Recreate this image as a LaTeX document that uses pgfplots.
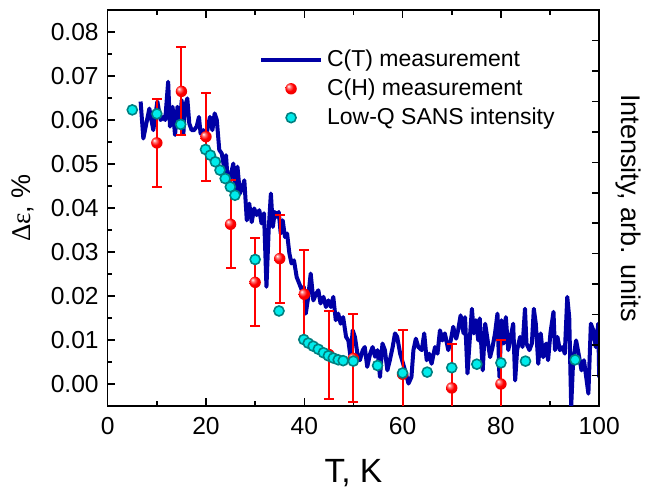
\documentclass[border=0pt]{standalone}
\usepackage{pgfplots}
\pgfplotsset{compat=1.18}
\usepackage{fontspec}
\setmainfont{Liberation Sans}
\newfontfamily\serif{Liberation Serif}
\definecolor{navyline}{RGB}{0,0,165}
\definecolor{cyanfill}{RGB}{0,235,235}
\definecolor{tealedge}{RGB}{0,128,128}
\pgfdeclareradialshading{redballshade}{\pgfpoint{-12bp}{12bp}}{color(0bp)=(white); color(8bp)=(red!55!white); color(18bp)=(red); color(34bp)=(red!90!black); color(50bp)=(red!70!black)}
\pgfdeclareplotmark{redball}{\pgfpathcircle{\pgfpointorigin}{\pgfplotmarksize}\pgfshadepath{redballshade}{0}\pgfusepath{}}

\pgfplotstableread{
x y
6.7 0.0642
7.25 0.0558
8.47 0.0626
9.28 0.0577
10.1 0.0642
10.77 0.0600
11.3 0.0607
11.7 0.0600
12.3 0.0687
12.67 0.0585
13.2 0.0630
13.7 0.0566
14.2 0.0630
14.7 0.0585
15.05 0.0645
15.4 0.0569
15.7 0.0630
16.2 0.0649
16.6 0.0592
17.08 0.0577
17.56 0.0577
18.1 0.0585
18.57 0.0607
18.9 0.0569
19.46 0.0577
19.86 0.0554
20.27 0.0577
20.8 0.0607
21.3 0.0577
21.76 0.0615
22.2 0.0600
22.7 0.0532
23.2 0.0524
23.66 0.0494
24.07 0.0520
24.5 0.0448
25.1 0.0478
25.56 0.0501
25.97 0.0433
26.4 0.0494
26.9 0.0433
27.45 0.0448
27.8 0.0463
28.3 0.0372
28.8 0.0410
29.3 0.0368
29.8 0.0399
30.3 0.0384
30.85 0.0395
31.3 0.0365
31.8 0.0388
32.3 0.0221
32.75 0.0350
33.2 0.0433
33.6 0.0357
34.0 0.0391
34.4 0.0380
34.8 0.0391
35.2 0.0342
35.6 0.0372
36.08 0.0334
36.5 0.0342
36.96 0.0297
37.4 0.0274
37.9 0.0281
38.45 0.0243
38.98 0.0228
39.5 0.0213
39.9 0.0221
40.3 0.0160
40.8 0.0198
41.3 0.0251
41.84 0.0190
42.4 0.0205
42.86 0.0213
43.3 0.0183
43.9 0.0198
44.4 0.0175
44.9 0.0190
45.4 0.0175
45.9 0.0198
46.4 0.0145
46.9 0.0160
47.4 0.0137
47.9 0.0152
48.5 0.0107
48.96 0.0099
49.4 0.0062
49.85 0.0122
50.3 0.0107
50.8 0.0069
51.3 0.0054
51.9 0.0077
52.3 0.0084
52.8 0.0039
53.4 0.0069
53.9 0.0084
54.4 0.0062
54.9 0.0077
55.4 0.0016
55.9 0.0092
56.4 0.0077
56.9 0.0031
57.4 0.0054
57.98 0.0084
58.45 0.0115
58.9 0.0107
59.5 0.0069
60.5 0.0031
61.2 0.0001
61.8 0.0016
62.2 0.0077
62.7 0.0103
63.2 0.0084
63.9 0.0077
64.4 0.0115
64.9 0.0054
65.4 0.0069
65.9 0.0046
66.6 0.0084
67.1 0.0069
67.6 0.0122
68.1 0.0099
68.6 0.0115
69.3 0.0077
69.8 0.0099
70.3 0.0130
70.9 0.0103
71.3 0.0122
71.8 0.0156
72.4 0.0115
72.7 0.0152
73.2 0.0024
73.7 0.0107
74.1 0.0171
74.5 0.0115
74.9 0.0145
75.4 0.0099
75.7 0.0149
76.3 0.0031
76.8 0.0137
77.2 0.0107
77.8 0.0061
78.3 0.0084
78.8 0.0115
79.3 0.0160
79.7 0.0016
80.1 0.0145
80.6 0.0092
81.0 0.0152
81.5 0.0077
82.0 0.0107
82.5 0.0137
82.9 0.0008
83.3 0.0077
83.9 0.0107
84.4 0.0084
84.9 0.0171
85.2 0.0092
85.8 0.0077
86.3 0.0092
86.7 0.0171
87.1 0.0137
87.6 0.0046
88.1 0.0115
88.6 0.0061
89.2 0.0092
89.6 0.0054
90.1 0.0118
90.7 0.0164
91.0 0.0077
91.5 0.0107
92.0 0.0077
92.6 0.0084
93.0 0.0069
93.5 0.0198
93.9 0.0152
94.3 -0.0052
94.7 0.0054
95.3 0.0099
95.8 0.0069
96.4 0.0031
96.9 0.0054
97.8 -0.0022
98.3 0.0137
98.8 0.0122
99.3 0.0084
99.8 0.0137
100.0 0.0015
}\ctdata

\pgfplotstableread{
x y e
10 0.0548 0.01
15 0.0665 0.01
20 0.0562 0.01
25 0.0363 0.01
30 0.0231 0.01
35 0.0285 0.01
40 0.0204 0.01
45 0.0067 0.01
50 0.0058 0.01
60 0.0022 0.01
70 -0.0009 0.01
80 0.0000 0.01
}\chdata

\pgfplotstableread{
x y
5 0.0623
10 0.0614
14.85 0.0590
19.9 0.0533
20.9 0.0520
21.9 0.0505
22.85 0.0486
23.9 0.0467
24.95 0.0448
25.9 0.0429
30 0.0283
34.85 0.0166
39.9 0.0101
40.8 0.0093
41.8 0.0086
42.85 0.0079
43.9 0.0071
44.9 0.0064
45.9 0.0059
46.9 0.0055
47.9 0.0053
49.97 0.0052
54.9 0.0042
60 0.0025
65 0.0027
70 0.0037
75.1 0.0045
80 0.0048
85 0.0052
95.1 0.0055
}\sansdata

\begin{document}
\begin{tikzpicture}
\begin{axis}[
  at={(0,0)}, anchor=south west,
  scale only axis, width=245.75pt, height=198pt,
  xmin=0, xmax=100, ymin=-0.005, ymax=0.085,
  xtick={0,20,40,60,80,100}, minor x tick num=1,
  ytick={0,0.01,0.02,0.03,0.04,0.05,0.06,0.07,0.08}, minor y tick num=1,
  scaled y ticks=false,
  yticklabel style={/pgf/number format/fixed, /pgf/number format/fixed zerofill, /pgf/number format/precision=2, xshift=-1pt},
  /pgf/number format/assume math mode=true,
  tick label style={font=\fontsize{12.3}{14}\selectfont},
  xticklabel style={yshift=-2pt},
  xtick pos=both, ytick pos=left,
  tick align=inside,
  major tick length=3.8pt, minor tick length=2.25pt,
  axis line style={line width=0.75pt},
  every tick/.style={black, line width=0.75pt},
  xlabel={T, K},
  xlabel style={font=\fontsize{16.8}{19}\selectfont, at={(axis description cs:0.5,-0.1944)}, anchor=base},
  ylabel={{\serif Δε}, \%},
  ylabel style={font=\fontsize{13.5}{16}\selectfont, at={(axis description cs:-0.172,0.5)}, anchor=center},
  clip=true,
  legend cell align=left,
  legend style={draw=none, fill=none, at={(axis description cs:0.295,0.92)}, anchor=north west,
    font=\fontsize{11.5}{13}\selectfont, row sep=0.6pt},
  legend image code/.code={\draw[mark repeat=2,mark phase=2,#1] plot coordinates {(0pt,0pt) (15pt,0pt) (30pt,0pt)};},
]
\addplot[navyline, line width=2pt, line join=round] table[x=x,y=y] {\ctdata};
\addlegendentry{C(T) measurement}
\addplot[only marks, mark=redball, mark size=2.85pt,
  error bars/.cd, y dir=both, y explicit,
  error bar style={red, line width=1pt},
  error mark options={red, line width=1pt, mark size=2.5pt, rotate=90}]
  table[x=x,y=y,y error=e] {\chdata};
\addlegendentry{C(H) measurement}
\addplot[only marks, mark=*, mark size=2.5pt, mark options={fill=cyanfill, draw=tealedge, line width=0.8pt}]
  table[x=x,y=y] {\sansdata};
\addlegendentry{Low-Q SANS intensity}
\end{axis}
\begin{axis}[
  at={(0,0)}, anchor=south west,
  scale only axis, width=245.75pt, height=198pt,
  xmin=0, xmax=100, ymin=0, ymax=13,
  axis x line=none,
  axis y line*=right,
  ytick={1,2,3,4,5,6,7,8,9,10,11,12},
  yticklabels={},
  tick align=inside,
  major tick length=3.8pt,
  axis line style={line width=0.75pt},
  every tick/.style={black, line width=0.75pt},
  ylabel={Intensity, arb. units},
  every axis y label/.style={font=\fontsize{13.5}{16}\selectfont, at={(axis description cs:1.06,0.5)}, rotate=-90, anchor=center},
]
\end{axis}
\pgfresetboundingbox
\path (-53.85pt,-42pt) rectangle (269.15pt,203pt);
\end{tikzpicture}
\end{document}
